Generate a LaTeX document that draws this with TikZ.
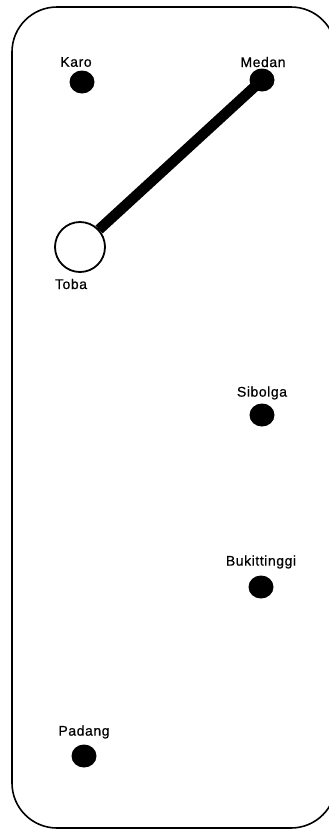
\documentclass[tikz,border=0pt]{standalone}
\usetikzlibrary{shapes.geometric}
\usepackage{fontspec}
\setmainfont{Liberation Sans}[LetterSpace=4,FakeBold=0.6]
\begin{document}
\begin{tikzpicture}[x=1pt,y=-1pt,
  town/.style={draw=none,fill=black,ellipse,minimum width=25pt,minimum height=23pt,inner sep=0pt},
  lbl/.style={font=\fontsize{14}{16}\selectfont,inner sep=0pt}]
\useasboundingbox (0,0) rectangle (329,830);
\begin{scope}
\clip (0,0) rectangle (329,830);
\draw[line width=1.6pt,rounded corners=45pt] (12,7) rectangle (336,828);
\end{scope}
\node[lbl] (karoL) at (76,62) {Karo};
\node[town] (karo) at (82,82) {};
\node[lbl] (medanL) at (263,62) {Medan};
\node[town] (medan) at (262,80) {};
\node[draw,line width=1.8pt,fill=white,circle,minimum size=50pt,inner sep=0pt] (toba) at (80,247) {};
\draw[line width=10.5pt] (medan.center) -- (toba);
\node[lbl] (tobaL) at (71,284) {Toba};
\node[lbl] (sibolgaL) at (262,393) {Sibolga};
\node[town] (sibolga) at (262,415) {};
\node[lbl] (bukitL) at (261,562) {Bukittinggi};
\node[town] (bukit) at (261,587) {};
\node[lbl] (padangL) at (84,732) {Padang};
\node[town] (padang) at (84,756) {};
\end{tikzpicture}
\end{document}
